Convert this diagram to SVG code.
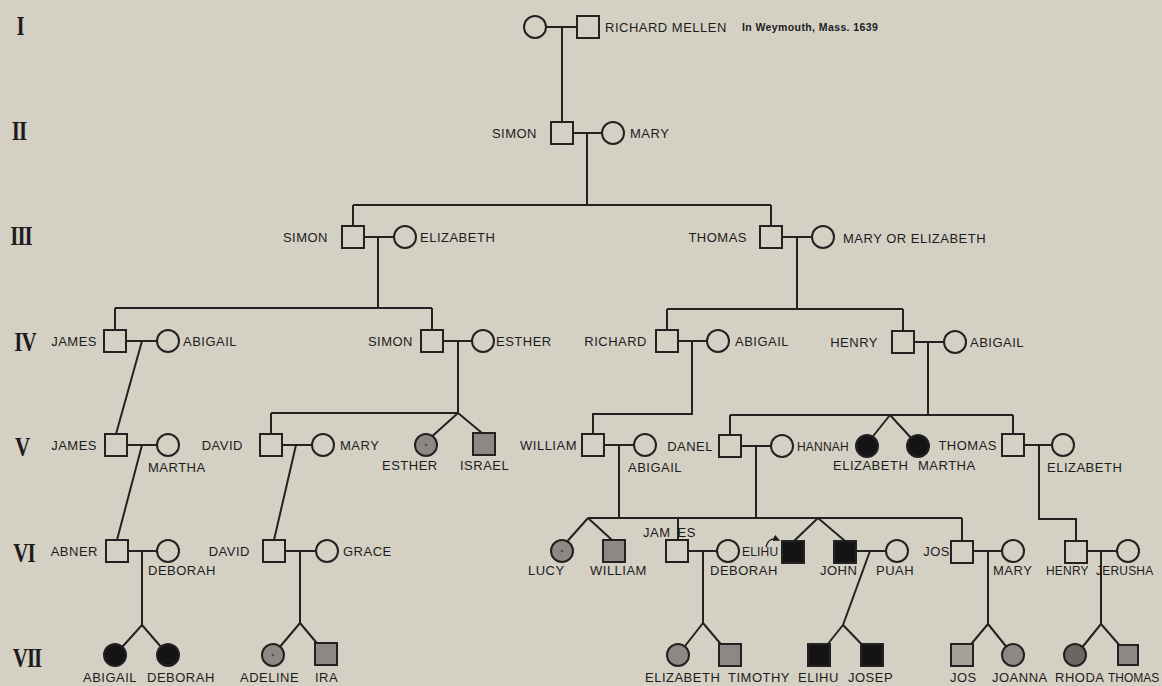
<svg xmlns="http://www.w3.org/2000/svg" width="1162" height="686" viewBox="0 0 1162 686">
<defs>
<style>
.bg{fill:#d5d0c4}
.c path{fill:none;stroke:#222;stroke-width:2}
.n circle,.n rect{fill:#d5d0c4;stroke:#222;stroke-width:2}
.n .gray{fill:#8c8984}
.n .lgray{fill:#a6a29a}
.n .dgray{fill:#6a6763}
.n .black{fill:#141414}
.n .dot{fill:#555;stroke:none}
text{font-family:"Liberation Sans",Arial,sans-serif;font-size:13px;letter-spacing:0.5px;fill:#1c1c1c}
.sm{font-size:12px;letter-spacing:0.2px}
.note{font-size:10.5px;font-weight:bold;letter-spacing:0.4px}
.rn{font-family:"Liberation Serif","Times New Roman",serif;font-size:21px;font-weight:bold;letter-spacing:-1px;text-anchor:middle}
.e{text-anchor:end}
</style>
<marker id="ah" viewBox="0 0 6 6" refX="5" refY="3" markerWidth="5" markerHeight="5" orient="auto"><path d="M0,0 L6,3 L0,6 z" fill="#222"/></marker>
</defs>
<rect class="bg" x="0" y="0" width="1162" height="686"/>

<g id="numerals">
<text class="rn" transform="translate(20,35) scale(1,1.3)">I</text>
<text class="rn" transform="translate(19,140) scale(1,1.3)">II</text>
<text class="rn" transform="translate(21,245) scale(1,1.3)">III</text>
<text class="rn" transform="translate(25,351) scale(1,1.3)">IV</text>
<text class="rn" transform="translate(22,456) scale(1,1.3)">V</text>
<text class="rn" transform="translate(24,562) scale(1,1.3)">VI</text>
<text class="rn" transform="translate(27,667) scale(1,1.3)">VII</text>
</g>

<g id="connectors" class="c">
<path d="M546,27 H577 M562,27 V122"/>
<path d="M573,133 H602 M587,133 V205 M353,205 H771 M353,205 V226 M771,205 V226"/>
<path d="M364,237 H394 M378,237 V308 M115,308 H432 M115,308 V330 M432,308 V330"/>
<path d="M782,237 H812 M797,237 V309 M667,309 H903 M667,309 V330 M903,309 V331"/>
<path d="M126,341 H157 M142,341 L116,434"/>
<path d="M443,341 H472 M458,341 V413 M271,413 H458 M271,413 V434 M458,413 L428,440 M458,413 L482,433"/>
<path d="M678,341 H707 M692,341 V414 H593 V434"/>
<path d="M914,342 H944 M928,342 V415 M730,415 H1013 M730,415 V435 M1013,415 V434 M890,415 L870,440 M890,415 L913,440"/>
<path d="M127,445 H157 M142,445 L117,540"/>
<path d="M282,445 H312 M296,445 L274,540"/>
<path d="M604,445 H634 M619,445 V518"/>
<path d="M741,446 H771 M756,446 V518"/>
<path d="M1024,445 H1052 M1039,445 V519 H1076 V541"/>
<path d="M588,518 H962 M588,518 L564,545 M588,518 L612,540 M678,518 V540 M818,518 L794,541 M818,518 L845,541 M962,518 V541"/>
<path d="M128,551 H157 M142,551 V625 M142,625 L115,655 M142,625 L168,655"/>
<path d="M285,551 H316 M300,551 V623 M300,623 L273,655 M300,623 L326,654"/>
<path d="M688,551 H717 M703,551 V623 M703,623 L678,655 M703,623 L730,655"/>
<path d="M856,551 H886 M870,551 L843,625 M843,625 L819,655 M843,625 L872,655"/>
<path d="M973,551 H1002 M988,551 V624 M988,624 L962,655 M988,624 L1013,655"/>
<path d="M1087,551 H1117 M1101,551 V624 M1101,624 L1076,655 M1101,624 L1128,655"/>
<path d="M766,547 Q769,536 779,540" style="stroke-width:1.4" marker-end="url(#ah)"/>
</g>

<g id="gen1" class="n">
<g id="n-i-wife"><circle cx="535" cy="27" r="11"/></g>
<g id="n-richard-mellen"><rect x="577" y="16" width="22" height="22"/><text x="605" y="32">RICHARD MELLEN</text><text class="note" x="742" y="31">In Weymouth, Mass. 1639</text></g>
</g>

<g id="gen2" class="n">
<g id="n-simon-2"><rect x="551" y="122" width="22" height="22"/><text class="e" x="537" y="138">SIMON</text></g>
<g id="n-mary-2"><circle cx="613" cy="133" r="11"/><text x="630" y="138">MARY</text></g>
</g>

<g id="gen3" class="n">
<g id="n-simon-3"><rect x="342" y="226" width="22" height="22"/><text class="e" x="328" y="242">SIMON</text></g>
<g id="n-elizabeth-3"><circle cx="405" cy="237" r="11"/><text x="420" y="242">ELIZABETH</text></g>
<g id="n-thomas-3"><rect x="760" y="226" width="22" height="22"/><text class="e" x="747" y="242">THOMAS</text></g>
<g id="n-mary-3"><circle cx="823" cy="237" r="11"/><text x="843" y="243">MARY OR ELIZABETH</text></g>
</g>

<g id="gen4" class="n">
<g id="n-james-4"><rect x="104" y="330" width="22" height="22"/><text class="e" x="97" y="346">JAMES</text></g>
<g id="n-abigail-4a"><circle cx="168" cy="341" r="11"/><text x="183" y="346">ABIGAIL</text></g>
<g id="n-simon-4"><rect x="421" y="330" width="22" height="22"/><text class="e" x="413" y="346">SIMON</text></g>
<g id="n-esther-4"><circle cx="483" cy="341" r="11"/><text x="496" y="346">ESTHER</text></g>
<g id="n-richard-4"><rect x="656" y="330" width="22" height="22"/><text class="e" x="647" y="346">RICHARD</text></g>
<g id="n-abigail-4b"><circle cx="718" cy="341" r="11"/><text x="735" y="346">ABIGAIL</text></g>
<g id="n-henry-4"><rect x="892" y="331" width="22" height="22"/><text class="e" x="878" y="347">HENRY</text></g>
<g id="n-abigail-4c"><circle cx="955" cy="342" r="11"/><text x="970" y="347">ABIGAIL</text></g>
</g>

<g id="gen5" class="n">
<g id="n-james-5"><rect x="105" y="434" width="22" height="22"/><text class="e" x="97" y="450">JAMES</text></g>
<g id="n-martha-5"><circle cx="168" cy="445" r="11"/><text x="148" y="472">MARTHA</text></g>
<g id="n-david-5"><rect x="260" y="434" width="22" height="22"/><text class="e" x="243" y="450">DAVID</text></g>
<g id="n-mary-5"><circle cx="323" cy="445" r="11"/><text x="340" y="450">MARY</text></g>
<g id="n-esther-5"><circle class="gray" cx="426" cy="445" r="11"/><circle class="dot" cx="426" cy="445" r="1.3"/><text x="382" y="470">ESTHER</text></g>
<g id="n-israel-5"><rect class="gray" x="473" y="433" width="22" height="22"/><text x="460" y="470">ISRAEL</text></g>
<g id="n-william-5"><rect x="582" y="434" width="22" height="22"/><text class="e" x="577" y="450">WILLIAM</text></g>
<g id="n-abigail-5"><circle cx="645" cy="445" r="11"/><text x="628" y="472">ABIGAIL</text></g>
<g id="n-danel-5"><rect x="719" y="435" width="22" height="22"/><text class="e" x="713" y="451">DANEL</text></g>
<g id="n-hannah-5"><circle cx="782" cy="446" r="11"/><text class="sm" x="797" y="451">HANNAH</text></g>
<g id="n-elizabeth-5a"><circle class="black" cx="867" cy="446" r="11"/><text x="833" y="470">ELIZABETH</text></g>
<g id="n-martha-5b"><circle class="black" cx="918" cy="446" r="11"/><text x="918" y="470">MARTHA</text></g>
<g id="n-thomas-5"><rect x="1002" y="434" width="22" height="22"/><text class="e" x="997" y="450">THOMAS</text></g>
<g id="n-elizabeth-5b"><circle cx="1063" cy="445" r="11"/><text x="1047" y="472">ELIZABETH</text></g>
</g>

<g id="gen6" class="n">
<g id="n-abner-6"><rect x="106" y="540" width="22" height="22"/><text class="e" x="98" y="556">ABNER</text></g>
<g id="n-deborah-6a"><circle cx="168" cy="551" r="11"/><text x="148" y="575">DEBORAH</text></g>
<g id="n-david-6"><rect x="263" y="540" width="22" height="22"/><text class="e" x="250" y="556">DAVID</text></g>
<g id="n-grace-6"><circle cx="327" cy="551" r="11"/><text x="343" y="556">GRACE</text></g>
<g id="n-lucy-6"><circle class="gray" cx="562" cy="551" r="11"/><circle class="dot" cx="562" cy="551" r="1.3"/><text x="528" y="575">LUCY</text></g>
<g id="n-william-6"><rect class="gray" x="603" y="540" width="22" height="22"/><text x="590" y="575">WILLIAM</text></g>
<g id="n-james-6"><rect x="666" y="540" width="22" height="22"/><text x="643" y="537">JAM<tspan dx="7">ES</tspan></text></g>
<g id="n-deborah-6b"><circle cx="728" cy="551" r="11"/><text class="sm" x="742" y="556">ELIHU</text><text x="710" y="575">DEBORAH</text></g>
<g id="n-elihu-6"><rect class="black" x="782" y="541" width="22" height="22"/></g>
<g id="n-john-6"><rect class="black" x="834" y="541" width="22" height="22"/><text x="820" y="575">JOHN</text></g>
<g id="n-puah-6"><circle cx="897" cy="551" r="11"/><text x="876" y="575">PUAH</text></g>
<g id="n-jos-6"><rect x="951" y="541" width="22" height="22"/><text class="e" x="950" y="556">JOS</text></g>
<g id="n-mary-6"><circle cx="1013" cy="551" r="11"/><text x="993" y="575">MARY</text></g>
<g id="n-henry-6"><rect x="1065" y="541" width="22" height="22"/><text class="sm" x="1046" y="575">HENRY</text></g>
<g id="n-jerusha-6"><circle cx="1128" cy="551" r="11"/><text class="sm" x="1096" y="575">JERUSHA</text></g>
</g>

<g id="gen7" class="n">
<g id="n-abigail-7"><circle class="black" cx="115" cy="655" r="11"/><text x="83" y="682">ABIGAIL</text></g>
<g id="n-deborah-7"><circle class="black" cx="168" cy="655" r="11"/><text x="147" y="682">DEBORAH</text></g>
<g id="n-adeline-7"><circle class="gray" cx="273" cy="655" r="11"/><circle class="dot" cx="273" cy="655" r="1.3"/><text x="240" y="682">ADELINE</text></g>
<g id="n-ira-7"><rect class="gray" x="315" y="643" width="22" height="22"/><text x="315" y="682">IRA</text></g>
<g id="n-elizabeth-7"><circle class="gray" cx="678" cy="655" r="11"/><text x="645" y="682">ELIZABETH</text></g>
<g id="n-timothy-7"><rect class="gray" x="719" y="644" width="22" height="22"/><text x="728" y="682">TIMOTHY</text></g>
<g id="n-elihu-7"><rect class="black" x="808" y="644" width="22" height="22"/><text x="798" y="682">ELIHU</text></g>
<g id="n-josep-7"><rect class="black" x="861" y="644" width="22" height="22"/><text x="848" y="682">JOSEP</text></g>
<g id="n-jos-7"><rect class="lgray" x="951" y="644" width="22" height="22"/><text x="950" y="682">JOS</text></g>
<g id="n-joanna-7"><circle class="gray" cx="1013" cy="655" r="11"/><text x="992" y="682">JOANNA</text></g>
<g id="n-rhoda-7"><circle class="dgray" cx="1075" cy="655" r="11"/><text x="1055" y="682">RHODA</text></g>
<g id="n-thomas-7"><rect class="gray" x="1118" y="645" width="20" height="20"/><text class="sm" x="1108" y="682" style="letter-spacing:0">THOMAS</text></g>
</g>
</svg>
